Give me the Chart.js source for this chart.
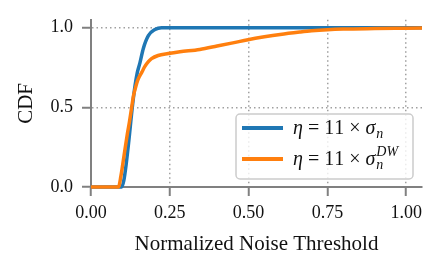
<!DOCTYPE html>
<html>
<head>
<meta charset="utf-8">
<script src="https://cdn.jsdelivr.net/npm/chart.js@4"></script>
<style>
  body { margin: 0; background: #fff; }
  #wrap { width: 434px; height: 260px; }
</style>
</head>
<body>
<div id="wrap"><canvas id="cdf"></canvas></div>
<script>
// CDF of normalized noise threshold, two estimators
const blueX = [0, 0.097, 0.104, 0.112, 0.12, 0.131, 0.14, 0.147, 0.155, 0.166, 0.182, 0.203, 0.224, 0.5, 1.05];
const blueY = [0, 0, 0.04, 0.15, 0.29, 0.50, 0.64, 0.72, 0.778, 0.87, 0.95, 0.989, 1.0, 1.0, 1.0];
const orangeX = [0, 0.087, 0.095, 0.105, 0.115, 0.122, 0.129, 0.135, 0.14, 0.148, 0.161, 0.171, 0.182, 0.192, 0.213, 0.245, 0.282, 0.345, 0.40, 0.45, 0.498, 0.55, 0.60, 0.662, 0.70, 0.75, 0.80, 0.90, 1.00, 1.05];
const orangeY = [0, 0, 0.07, 0.2, 0.33, 0.41, 0.50, 0.575, 0.615, 0.67, 0.72, 0.757, 0.787, 0.806, 0.826, 0.838, 0.849, 0.864, 0.885, 0.905, 0.925, 0.943, 0.958, 0.973, 0.981, 0.988, 0.992, 0.995, 0.997, 0.998];
const xTicks = [0, 0.25, 0.5, 0.75, 1.0];
const yTicks = [0, 0.5, 1.0];
const seriesLabels = ['η = 11 × σ_n', 'η = 11 × σ_n^DW'];
const seriesColors = ['#1f77b4', '#ff7f0e'];

const serif = '"Liberation Serif", "DejaVu Serif", serif';
const tickFont = { family: serif, size: 18 };
const titleFont = { family: serif, size: 21 };
const ink = '#111';
const spine = '#808080';

const pts = (xs, ys) => xs.map((x, i) => ({ x: x, y: ys[i] }));

// draw "η = 11 × σ_n^DW" with italics, subscript and superscript
function drawMath(ctx, label, x, y) {
    const [main, rest] = label.split('_');
    const [sub, sup] = (rest || '').split('^');
    ctx.textBaseline = 'alphabetic';
    ctx.textAlign = 'left';
    ctx.fillStyle = ink;
    for (const ch of main) {
        if (ch === ' ') { x += 5; continue; }
        const greek = /[α-ω]/.test(ch);
        ctx.font = (greek ? 'italic ' : '') + '20px ' + serif;
        ctx.fillText(ch, x, y);
        x += ctx.measureText(ch).width;
    }
    ctx.font = 'italic 14px ' + serif;
    if (sub) ctx.fillText(sub, x + 1, y + 4);
    if (sup) ctx.fillText(sup, x + 1, y - 9);
}

const mathLegend = {
    id: 'mathLegend',
    afterDatasetsDraw(chart) {
        const { ctx, chartArea } = chart;
        const w = 177, h = 65;
        const x0 = chartArea.right - 9 - w;
        const y0 = chartArea.bottom - 8 - h;
        ctx.save();
        ctx.beginPath();
        ctx.roundRect(x0, y0, w, h, 4);
        ctx.fillStyle = 'rgba(255,255,255,0.8)';
        ctx.fill();
        ctx.strokeStyle = '#cccccc';
        ctx.lineWidth = 1.5;
        ctx.stroke();
        chart.data.datasets.forEach((ds, i) => {
            const cy = y0 + 14 + i * 31;
            ctx.strokeStyle = ds.borderColor;
            ctx.lineWidth = 4;
            ctx.beginPath();
            ctx.moveTo(x0 + 6, cy);
            ctx.lineTo(x0 + 47, cy);
            ctx.stroke();
            drawMath(ctx, ds.label, x0 + 57, cy + 6);
        });
        ctx.restore();
    }
};

const gridOpts = {
    color: '#a0a0a0',
    lineWidth: 1.5,
    tickColor: spine,
    tickLength: 9,
    tickWidth: 2,
    tickBorderDash: []
};
const borderOpts = { color: spine, width: 2, dash: [1.5, 3] };

new Chart(document.getElementById('cdf'), {
    type: 'line',
    data: {
        datasets: [
            {
                label: seriesLabels[0],
                data: pts(blueX, blueY),
                borderColor: seriesColors[0],
                backgroundColor: seriesColors[0],
                borderWidth: 3.5,
                pointRadius: 0,
                cubicInterpolationMode: 'monotone',
                clip: 6,
                order: 1
            },
            {
                label: seriesLabels[1],
                data: pts(orangeX, orangeY),
                borderColor: seriesColors[1],
                backgroundColor: seriesColors[1],
                borderWidth: 3.5,
                pointRadius: 0,
                cubicInterpolationMode: 'monotone',
                clip: 6,
                order: 0
            }
        ]
    },
    options: {
        responsive: true,
        maintainAspectRatio: false,
        animation: false,
        layout: { padding: { top: 4, right: 12, left: 0, bottom: 0 } },
        plugins: {
            legend: { display: false },
            tooltip: { enabled: false }
        },
        scales: {
            x: {
                type: 'linear',
                min: 0,
                max: 1.05,
                afterBuildTicks: s => { s.ticks = xTicks.map(v => ({ value: v })); },
                afterFit: s => { s.height = 73; },
                ticks: { callback: v => v.toFixed(2), font: tickFont, color: ink, padding: 6, maxRotation: 0 },
                grid: gridOpts,
                border: borderOpts,
                title: { display: true, text: 'Normalized Noise Threshold', font: titleFont, color: ink, padding: { top: 3, bottom: 3 } }
            },
            y: {
                min: 0,
                max: 1.05,
                afterBuildTicks: s => { s.ticks = yTicks.map(v => ({ value: v })); },
                afterFit: s => { s.width = 91; },
                ticks: { callback: v => v.toFixed(1), font: tickFont, color: ink, padding: 9 },
                grid: gridOpts,
                border: borderOpts,
                title: { display: true, text: 'CDF', font: titleFont, color: ink, padding: { top: 14, bottom: 14 } }
            }
        }
    },
    plugins: [mathLegend]
});
</script>
</body>
</html>
